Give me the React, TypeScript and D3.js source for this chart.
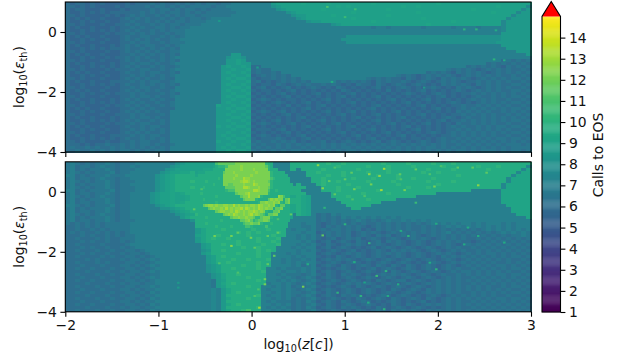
import React, { useRef, useEffect } from "react";
import * as d3 from "d3";

// heat map rows, top to bottom. one char per cell, looked up in levels
const levelChars = "123456789abcdefghij";
const levelValues = [5, 5.5, 6, 6.5, 7, 7.5, 8, 8.5, 8.9, 9.2, 9.6, 10.1, 10.8, 11.5, 12.2, 12.7, 13.2, 13.7, 14];

const topRows = [
  "3233232322 2232333434 3343434344 3445555555 5899999a99 99a9999999 9a99999999 9999a99999 9999999999 999",
  "3323232222 3233334344 3434344443 4455555555 5789999999 9999a9a999 9999999a99 a999999999 999999a999 996",
  "3233222322 2323333434 4343443434 4445555555 5578999999 9a99999999 9999a99999 9999999999 9a99999999 968",
  "3223232323 3333343434 3443434344 4444555555 5555789999 9999999a99 9999999999 a999999999 99999a9999 688",
  "3323222232 3234343343 4343443444 4445555555 5555578899 999a999999 9999a99999 9999999999 9999999996 888",
  "3232322322 2343434334 3434344345 5555555555 5555557899 9999999a99 9999999999 9a99999999 9999999968 888",
  "3223232232 2334334343 4344344455 5555555555 5555555578 8999999999 9a99999999 9999999a99 9999999688 888",
  "3323222322 3343433434 3443444555 5555555555 5555555555 5557899999 9999999999 99a9999999 9999999688 888",
  "3232232223 2334343344 3434455555 5555555555 5555555555 5555555555 5455455555 5455555455 5545555688 888",
  "3223232323 2343433434 3444555555 5555555555 5555555555 5555555555 5555555555 5555555555 5555555688 888",
  "3323222232 3334343433 4344555555 5555555555 5555555555 5555555555 5555555555 5555555555 5555555888 888",
  "3232322322 2343344334 3434555555 5555555555 5555555555 5555557777 7777777777 7777777777 7777777888 888",
  "3223232232 2343434343 3445555555 5555555555 5555555555 5555577777 7777777777 7777777777 7777777888 888",
  "3323222322 2334344334 3444555555 5555555555 5555555555 5555557777 7777777777 7777777777 7777778888 888",
  "3232232223 2343434433 4345555555 5555555555 5555555555 5555555555 5555555555 5555555555 5555555888 888",
  "3223232323 3343343434 3435555555 5555555555 5555555555 5555555555 5555555555 5555555555 5555555588 888",
  "3323222232 2343434343 3445555555 5555555555 5555555555 5555555555 5555555555 5555555555 5555555555 888",
  "3232322322 2334343434 3435555555 5558855555 5555555555 5555555555 5555555555 5555555555 5555555555 558",
  "3223232232 3343434334 3455555555 5578875555 5555555555 5555555555 5555555555 5555555555 5555555555 555",
  "3323222322 2343433434 3435555555 5588985555 5555555555 5555555555 5555555555 5555555555 5555555343 434",
  "3232232223 2334344343 3455555555 5588988555 5555555555 5555555555 5555555555 5555555555 5555343434 343",
  "3223232323 2343433434 3345555555 5898898335 5555555555 5555555555 5555555555 5555555555 3434343243 434",
  "3323222232 3334344334 3455555555 5889889343 3555555555 5555555555 5555555555 5555554343 4323434343 343",
  "3232322322 2343343443 3435555555 5898898343 3435555555 5555555555 5555555555 5534343243 4343234343 434",
  "3223232232 2334343434 3455555555 5889889234 3434355555 5555555555 5555554343 2343434323 4343434334 343",
  "3323222322 2343434334 3355555555 5898998323 3434343555 5555555555 4343433243 2343243434 3234343434 434",
  "3232232223 3334343443 3455555555 5889889342 3234343435 5555343434 3243433432 3432343432 3343434343 343",
  "3223232323 2343343434 3435555555 5898898323 3243234343 3434323243 3243234323 4323243434 3243434334 434",
  "3323222232 2334344334 3355555555 5889989234 2323423234 3232432323 2342323432 3234323243 4323434343 343",
  "3232322322 2343434343 3455555555 5898898323 3232342323 2323243232 3232423232 3423232343 2343434334 434",
  "3223232232 3334343334 3435555555 5889889232 3234232323 4232323423 2323232343 2323432323 3434343434 343",
  "3323222322 2334344343 3455555555 5898998323 2323423232 3232342323 2342323232 3232342323 2343343434 434",
  "3232232223 2343433434 3355555555 5889889234 3232332323 2342323232 3232342323 2342323232 3434343343 343",
  "3223232323 2334343343 3455555555 5898898323 2343232342 3232323423 2323232342 3232323432 3234343434 434",
  "3323222232 3343434334 3455555555 9889889232 3232423232 3423232323 2342323232 3423232334 3343434343 343",
  "3232322322 2334343433 3355555555 8898998323 2323232342 3232323232 3423232323 2323423234 3434343434 434",
  "3223232232 2343434343 3555555555 8889889234 3234232323 2342323423 2323234232 3232323243 4343433434 343",
  "3323222322 3334343334 3555555555 8898898323 2323423232 3232342323 2342323232 3423232334 3434343343 434",
  "3232232223 2334344343 3555555555 8889989232 3232323423 2323232342 3232323423 2323234323 4334343434 343",
  "3223232323 2343433434 3555555555 8898898323 2342323232 3423232323 2342323232 3232342334 3434343434 434",
  "3323222232 3334344334 3555555555 8889889234 3232342323 2323423232 3232342323 2342323243 3434343343 343",
  "3232322322 2343343443 3555555555 9898998323 2323232342 3232323423 2323232342 3232323434 3343434434 434",
  "3223232232 2334343434 3555555555 8889889233 3234232323 2342323232 3423232323 4232323343 4343434343 343",
  "3323222322 2343434334 3555555555 8898898323 2323423232 3232342323 2323423232 3234323434 3434343434 434",
  "3232232223 3334343443 3555555555 8989889234 3232323423 2323232342 3232323423 2323233434 3434343343 343",
  "3223232323 2343343434 3555555555 8898998323 3343232342 3232323232 3423232323 3232343343 4343434434 434",
  "3323222232 2334344334 3555555555 9889889343 3434342323 3423234323 2342343232 3432343434 3434343434 343",
  "3332323343 3434344343 3455555555 8898898434 3343434343 3434343434 3434343434 3434343343 4343434344 434",
  "3433434334 3434343434 3555555555 8989889343 4343433434 3434344343 4343434343 4344343434 3434343434 444",
  "3343343434 3443434344 3555555555 8898998434 3434344343 4343434434 3434344343 4343434344 3434443434 434",
];

const bottomRows = [
  "4543434454 3444555555 5578999999 ddddffffff c5555bbbbb bbcbbcbbbb bbbcbbbbcb bbbcbbbcbb bbbbbbbbbb bbb",
  "4534434544 3445455555 5789999999 9bbfffhfff fc5555bbbb bbbbcbbbbb cbbbcbbbbc bbbbbcbbbb bbcbbbcbbb bb6",
  "4534344454 3444555555 7899999aaa abffffgfff fcb5555bbb bcbbbbbbcb bbbbcbbbbb bbcbbbbcbb bbbbcbbbbb b6a",
  "4543434445 3445555557 899aabbbba bbffggfhff fdcbb555bb cbbbbcbbbb cbbbcbbbbb bcbbcbbbbb bbbbbbbbbb 6aa",
  "5534344454 4455555578 9abbbbbbbb bffgghhfgf ffcbb555bb bbcbbcbbbb bbcbbbcbbb bbbbbbbbcb bbbbbbbbb6 aaa",
  "4534434544 3445555578 9abbbbbbbb bffgfghhff fdcbbb555b bcbbbbbcbb bcbbbbcbbc bbbcbbbbbb bbbbbbbb6a aaa",
  "4543434454 3444555578 9abbbcbbbb bbffghhgff ffcbbb555b bcbbcbbbbb cbbbbcbbbb bbcbbbbcbb bbbbbbbb6a aaa",
  "4534344454 3445555578 9abbbbbbcb bbfffhhgff ffcbbbb555 bcbbbbcbbb bbbbbbcbbb bbbbcbbbbb bbbbbbb6aa aaa",
  "4543434454 3444555578 9abbbcbbcb bbbbffgffg ffcbbcbb55 5bbbcbbbcb bbbbbbbbcb bbcbbbbbbb bbbbbbb6aa aaa",
  "5534344445 3444555578 9abbbbbbbb bcbbbfhgff fdcbbbb555 5bbbcbbbbb bbcbbbbbbb bbbbbbbbbb b555555aaa aaa",
  "4534434454 3445555789 9a9abbbbbb bbbbbfhggf fdcbbbbb55 555bbbbbbc bbbbcbbbbb bbbb555555 5555555aaa aaa",
  "4543434544 3445555789 9a99abbbbb bcbbbbfhfg cbffcbba95 555bbbcbbb bbbbbbbbbb 5555555555 5555555aaa aaa",
  "4534344454 3445555789 9a99abbbbb bcbbbbbffb ffggcbba95 5555bbbbbb cbbbbb5555 5555555555 5555555aaa aaa",
  "4534434454 3445555789 9a9abbcbbb bbbcbbbfgf ggfcebba95 55555bbbbb bbb5555555 5555555555 5555555aaa aaa",
  "5543434445 3445555578 9abbbbbbef fggfgffhfg ffceebba95 555555bbbb b555555555 5555555555 55555555aa aaa",
  "4534344454 3445555557 789abbbbbe ffgfhgfgfg fceecbba95 5555555bb5 5555555555 5555555555 555555555a aaa",
  "4534434454 3445555555 5789abbbbb effgfhfgfe ceecbbba95 5555555555 5555555555 5555555555 555555555a aaa",
  "4543434544 3445555555 55789abbbb ccefgfgffd eecbbbba95 3435455555 5555555555 5555555555 5555555555 aaa",
  "4534344454 3445555555 5558abbbbb bbcegffecd ecbbbb5555 3434354545 4545454555 5555555555 5555555555 55a",
  "4534434454 3444555555 5555579abb bbbcefgeee cbbbbb5555 3434343454 3434544545 4545555555 5555555555 555",
  "4343434344 4445555555 5555559abb bbbeeeeebc bbbbb55455 3234343434 3343434343 4345454545 5454555454 555",
  "3343434344 4445555555 5555558abb bbcbcbbbcb cbbb555445 3243434343 2343434343 3434345454 5454545454 555",
  "3343343434 4445555555 5555558abb bcbbbbbcbb cbbb545545 3434434342 3243434343 3434343434 3434545454 545",
  "3434334343 4345555555 5555558abb bbbbcbcbcb bbcb555455 2343434234 3432343434 3434345343 4343434545 454",
  "3334343343 4344555555 5555559abb cbbbbbcbbb bcbb554545 3243434234 3243423434 3234343434 3434343434 454",
  "3343334343 3444555555 5555558abc bbcbbbbbcb bbc5554545 3234234342 3432343234 3432343434 3343434343 434",
  "3334343343 3434555555 5555558abb bbbbcbbbcb bcb5555454 2342343243 2342434323 4323434343 3234343434 343",
  "3343333433 3345555555 555555589b bcbbcbbbbc bbc5554545 3243234343 2343234323 4323434323 4343434343 434",
  "3334343343 3434555555 555555589b bbbbbcbbcb bb55545455 2342343232 3423432343 2343234343 3434343434 343",
  "3343334334 3344345555 555555578b bcbbbbbbcb cb55554545 3234323423 2343243434 3234323434 3343434343 434",
  "3334343343 3434434555 555555589b bbbbcbbbcb b555454555 2343234343 2343434323 4323434323 4343443434 343",
  "3343333434 3344343455 5555555589 bcbbbbbbcb b555545455 3232432343 2343234323 4323243434 3434343434 434",
  "3333434333 3434434545 5555555589 bbbcbbcbbb c554544545 2343434323 4323432343 2343234323 4343434343 343",
  "3343334343 3344343455 5555555589 bbcbbbbbcb b554545455 3234323432 3234323432 3234323434 3434343343 434",
  "3334333433 3443434545 5555555578 9bbbbcbbcb b555545345 2343243234 3243243243 2343234323 4343434434 343",
  "3343343334 3344343455 5555555578 9bbcbbbbcb 5545444545 3232343232 3423432343 2343234343 3434343434 434",
  "3333433343 3434434545 5555555578 9bbbbbbbbc 5554554545 2343234323 4323243234 3234323434 4343434343 343",
  "3343334334 3344343445 5555555557 8abbcbbbbb 5545444345 3243243432 3234343432 3432343343 4343434434 434",
  "3334333433 3443434545 5555555557 8abbbbcbbb 5554543454 2343234323 4323432343 2343234343 3434343434 343",
  "3343343334 3344343455 5555555554 89bbbbbbcb 5545454345 3234323432 3243234423 4323434343 4343434343 434",
  "3333433343 3434434455 5555555554 8abcbbbbbb 4554543454 2343234343 4323432343 2343434343 3434343434 343",
  "3343334334 3344344545 5555555554 89bbbbcbb5 5454534345 3232343243 2343234323 4323434343 4343433434 434",
  "3334333433 3443434455 5555555556 58abbbbbb5 4554543454 2343234323 4323243234 3243434343 4343434343 343",
  "3343343334 3344343545 5555555556 58abcbbbb5 5454544345 3243234323 4323432343 2343434343 3434343434 434",
  "3333433343 3434434455 5555555556 58bbbbbbc5 4554543454 2343243432 3234323432 3234323434 3434343343 343",
  "3343334334 3344343545 5555555556 58abbbcbb5 5454534345 3234323243 2343243234 3243234343 4343434434 434",
  "3334333433 3443434455 5555555556 58bbbbbbb5 4544434354 2343243234 3232343232 3423234343 3434343434 343",
  "3343343334 3344343545 5555555556 58abcbbbb5 5454534345 3243234323 4323243243 2343434343 4343434343 434",
  "3333433343 3434434455 5555555556 58bbbbbbc5 4545434354 2343243432 3243234323 4323234343 3434343434 343",
  "3343334334 3344343545 5555555556 58abbcdbb5 5454534345 3234323243 2343243434 3243434343 4343434343 434",
];

// finer cells over the swirl in the lower panel
const swirlRows = [
  "99999999de eeeeeeffff ffffffffcb b5555555bb",
  "9999999abc ccdfffffgf ffffffffec b5555555bb",
  "999aaaabbb bbffffffgf fffgfffffc bbb55555bb",
  "9aaabbbbbb befffgffff ffffgfffff cbbbbb5555",
  "abbbbbbbbb bfffffgfff ffgfffffff cbbbbbb555",
  "bbbbbbbbbc bffffgfffh ggffffffff dcbbbbbb55",
  "bbbbcbbbbb bfffffffgh hgfgfffffe cbbbbbbb55",
  "bbbbbbbcbb bffeeffffg fffhgfffff cbbbbbbbb5",
  "bbbcbbbbbb bbeeeefffh hgfffgfffe cbbbbbbbbb",
  "bbbbbbbbbb bbcdddffff fffhhgfffd bbcbbbbbbb",
  "bbcbbbbbbb bbbbbbefff ghfffffffc bbbbbbbbbb",
  "bbbbbbbbcb bbbbbbbbef fhfffgcbbb bbbgfdbbaa",
  "bbbcbbbbbb bbbbbbbbbe ffffcbbbbe gfgffbefbb",
  "bbbbbbbbcb bbbbbbbbbb bbbbbcffgf fgfgcbefbb",
  "bbbefggfgf fggffhfgff gfggfhgffg fgcbeebbaa",
  "bbbbbefgff gfhfgfgghf hgfgfhgfgf fbeefbbbaa",
  "bbbbbbbbef ggffgfhgfg fgghgfgfcb beefbbbbaa",
  "cbbbbbbbbb befgfhgffg fghfgfedbe effbbbbb95",
  "bbbbcbbbbb bbbbeffgff gffeccefff cbbbbbbb95",
  "bbbbbbbbbb cbbbbbbbee fgecdeeffe bbbbbbbb55",
  "bbbbcbbbbb bbbbbbbbbd eefeefcbbb cbbbbbb555",
  "bbbbbbbbcb bbbbcbbbbb ddcbbbbbdb bbbbbbb555",
];

// single outlier cells: log10(z), log10(eps), calls
const topSpecks = [
  [0.8, 0.87, 11], [0.99, 0.53, 10.5], [1.1, 0.79, 10.5], [0.85, -1.63, 9.5], [2.59, -0.88, 10], [2.7, -0.91, 9.5],
  [2.27, 0.12, 10], [2.4, 0.12, 10], [2.61, 0.09, 9.5], [1.84, -1.82, 8.5], [-0.36, 0.4, 8.5], [0.05, -1.15, 8.5],
];
const bottomSpecks = [
  [0.7, 0.92, 12.5], [0.88, 0.84, 11], [1.06, 0.67, 11.5], [1.25, 0.62, 12.5], [1.36, 0.56, 12.5], [1.41, 0.8, 13],
  [1.58, 0.62, 11.5], [1.75, 0.78, 11.5], [1.9, 0.62, 11], [2.02, 0.89, 11], [2.2, 0.84, 11.5], [2.36, 0.84, 11.5],
  [2.51, 0.67, 11.5], [2.42, 0.25, 12.5], [1.95, 0.21, 12], [0.75, 0.15, 12.5], [1.09, 0.12, 12], [1.27, 0.28, 12],
  [1.38, 0.09, 13], [1.63, 0.09, 12], [1.59, 0.45, 11], [0.82, 0.39, 11.5], [0.99, 0.45, 11.5], [1.2, -0.11, 11],
  [1.07, -0.22, 11], [0.88, -0.05, 11.5], [1.75, -0.33, 10.5], [0.77, -0.5, 10], [1.97, -1.03, 9.5], [1.67, -1.44, 10],
  [0.75, -1.42, 11.5], [0.99, -1.05, 10], [1.25, -1.68, 10], [1.33, -2.77, 10.5], [1.43, -2.61, 10], [1.56, -3.05, 9.5],
  [1.16, -3.44, 10], [1.24, -3.66, 9.5], [0.91, -3.33, 10], [1.45, -3.44, 9.5], [0.54, -3.13, 12], [0.59, -2.38, 9.5],
  [1.09, -2.31, 9.5], [1.9, -2.33, 9.5], [2.31, -1.16, 9.5], [2.27, -1.72, 9.5], [2.42, -1.44, 9.5], [2.7, -1.66, 9.5],
  [1.97, -2.55, 10], [1.2, -2.99, 9], [1.59, -1.27, 9.5], [1.41, -3.88, 10],
  [-0.41, -1.44, 12], [-0.23, -1.44, 12], [-0.16, -1.33, 11.5], [-0.02, -1.5, 12], [0.16, -1.44, 11.5], [0.27, -1.33, 11.5],
  [-0.23, -1.77, 12.5], [0.02, -1.83, 11.5], [0.23, -2.1, 11.5], [0.16, -2.38, 11.5], [-0.36, -2.35, 11], [0.13, -2.88, 12],
  [0.13, -3.05, 12], [0.06, -3.22, 11], [0.07, -3.83, 13], [-0.16, -2.66, 11], [0.02, -3.44, 11], [-0.8, -3, 8.5],
  [-0.8, -3.16, 8.5], [-0.55, 0.12, 11], [-0.63, -0.55, 11.5], [0.41, -0.72, 11.5], [0.27, -0.88, 11],
];

const xTicks = [-2, -1, 0, 1, 2, 3];
const yTicks = [-4, -2, 0];
const barTicks = d3.range(1, 15);
const barLabel = "Calls to EOS";

const xDomain = [-2, 3];
const yDomain = [-4, 1];
const colorDomain = [1, 15];
const swirlX = [-0.607, 0.467];
const swirlY = [-1.2, 1];
const speckW = 0.027;
const speckH = 0.067;

function parseRows(rows) {
    return rows.map((r) =>
        r.replace(/ /g, "").split("").map((c) => levelValues[levelChars.indexOf(c)])
    );
}

export default function App() {
    const ref = useRef(null);

    useEffect(() => {
        const svg = d3.select(ref.current);
        svg.selectAll("*").remove();

        const color = d3.scaleSequential(d3.interpolateViridis).domain(colorDomain);
        const xScale = d3.scaleLinear().domain(xDomain).range([65.3, 531]);

        function drawGrid(g, grid, yScale, xd, yd) {
            const dy = (yd[1] - yd[0]) / grid.length;
            grid.forEach((row, j) => {
                const dx = (xd[1] - xd[0]) / row.length;
                g.selectAll(null)
                    .data(row)
                    .enter()
                    .append("rect")
                    .attr("x", (d, i) => xScale(xd[0] + i * dx))
                    .attr("y", yScale(yd[1] - j * dy))
                    .attr("width", xScale(dx) - xScale(0) + 0.5)
                    .attr("height", yScale(0) - yScale(dy) + 0.5)
                    .attr("shape-rendering", "crispEdges")
                    .attr("fill", (d) => color(d));
            });
        }

        const panels = [
            { rows: topRows, specks: topSpecks, range: [152, 2], labels: false },
            { rows: bottomRows, specks: bottomSpecks, range: [311.8, 161.8], labels: true },
        ];

        panels.forEach((p) => {
            const yScale = d3.scaleLinear().domain(yDomain).range(p.range);
            const g = svg.append("g");
            drawGrid(g, parseRows(p.rows), yScale, xDomain, yDomain);
            if (p.labels) drawGrid(g, parseRows(swirlRows), yScale, swirlX, swirlY);

            g.selectAll(null)
                .data(p.specks)
                .enter()
                .append("rect")
                .attr("x", (d) => xScale(d[0]))
                .attr("y", (d) => yScale(d[1]))
                .attr("width", xScale(speckW) - xScale(0))
                .attr("height", yScale(0) - yScale(speckH))
                .attr("fill", (d) => color(d[2]));

            const xAxis = d3
                .axisBottom(xScale)
                .tickValues(xTicks)
                .tickSize(4.9)
                .tickPadding(3.5)
                .tickFormat(p.labels ? d3.format("d") : () => "");
            const yAxis = d3.axisLeft(yScale).tickValues(yTicks).tickSize(4.9).tickPadding(3.5).tickFormat(d3.format("d"));

            [
                svg.append("g").attr("transform", `translate(0,${p.range[0]})`).call(xAxis),
                svg.append("g").attr("transform", `translate(${xScale.range()[0]},0)`).call(yAxis),
            ].forEach((a) => {
                a.selectAll("text").attr("font-size", 13.9).attr("font-family", "DejaVu Sans").attr("fill", "#111");
                a.select(".domain").remove();
                a.selectAll("line").attr("stroke-width", 1.1).attr("stroke", "#000");
            });

            svg.append("rect")
                .attr("x", xScale.range()[0])
                .attr("y", p.range[1])
                .attr("width", xScale.range()[1] - xScale.range()[0])
                .attr("height", p.range[0] - p.range[1])
                .attr("fill", "none")
                .attr("stroke", "#000")
                .attr("stroke-width", 1.1);

            const label = svg
                .append("text")
                .attr("transform", `translate(24,${(p.range[0] + p.range[1]) / 2}) rotate(-90)`)
                .attr("text-anchor", "middle")
                .attr("font-family", "DejaVu Sans")
                .attr("font-size", 13.9)
                .attr("fill", "#111");
            label.append("tspan").text("log");
            label.append("tspan").attr("font-size", 9.7).attr("dy", 3).text("10");
            label.append("tspan").attr("dy", -3).text("(");
            label.append("tspan").attr("font-style", "italic").text("ε");
            label.append("tspan").attr("font-size", 9.7).attr("dy", 3).text("th");
            label.append("tspan").attr("dy", -3).text(")");
        });

        const xl = svg
            .append("text")
            .attr("x", 298.5)
            .attr("y", 349)
            .attr("text-anchor", "middle")
            .attr("font-family", "DejaVu Sans")
            .attr("font-size", 13.9)
            .attr("fill", "#111");
        xl.append("tspan").text("log");
        xl.append("tspan").attr("font-size", 9.7).attr("dy", 3).text("10");
        xl.append("tspan").attr("dy", -3).text("(");
        xl.append("tspan").attr("font-style", "italic").text("z");
        xl.append("tspan").text("[");
        xl.append("tspan").attr("font-style", "italic").text("c");
        xl.append("tspan").text("])");

        // colorbar
        const barX = [542, 560.5];
        const barScale = d3.scaleLinear().domain(colorDomain).range([312, 16.5]);
        const steps = d3.range(colorDomain[0], colorDomain[1], 0.05);
        svg.append("g")
            .selectAll("rect")
            .data(steps)
            .enter()
            .append("rect")
            .attr("x", barX[0])
            .attr("width", barX[1] - barX[0])
            .attr("y", (d) => barScale(d + 0.05))
            .attr("height", barScale(0) - barScale(0.05) + 0.3)
            .attr("fill", (d) => color(d));

        const triangle = d3.line()([
            [barX[0], barScale(15)],
            [(barX[0] + barX[1]) / 2, 1.5],
            [barX[1], barScale(15)],
        ]);
        svg.append("path").attr("d", triangle + "Z").attr("fill", "#ff0000");

        const outline = d3.line()([
            [barX[0], barScale(1)],
            [barX[0], barScale(15)],
            [(barX[0] + barX[1]) / 2, 1.5],
            [barX[1], barScale(15)],
            [barX[1], barScale(1)],
        ]);
        svg.append("path").attr("d", outline + "Z").attr("fill", "none").attr("stroke", "#000").attr("stroke-width", 1.1);

        const barAxis = svg
            .append("g")
            .attr("transform", `translate(${barX[1]},0)`)
            .call(d3.axisRight(barScale).tickValues(barTicks).tickSize(4.9).tickPadding(3.5).tickFormat(d3.format("d")));
        barAxis.select(".domain").remove();
        barAxis.selectAll("text").attr("font-size", 13.9).attr("font-family", "DejaVu Sans").attr("fill", "#111");
        barAxis.selectAll("line").attr("stroke-width", 1.1);

        svg.append("text")
            .attr("transform", "translate(603,155) rotate(-90)")
            .attr("text-anchor", "middle")
            .attr("font-family", "DejaVu Sans")
            .attr("font-size", 13.9)
            .attr("fill", "#111")
            .text(barLabel);
    }, []);

    return (
        <div style={{ position: "absolute", left: 0, top: 0 }}>
            <svg ref={ref} width="626" height="362" style={{ display: "block" }}></svg>
        </div>
    );
}
